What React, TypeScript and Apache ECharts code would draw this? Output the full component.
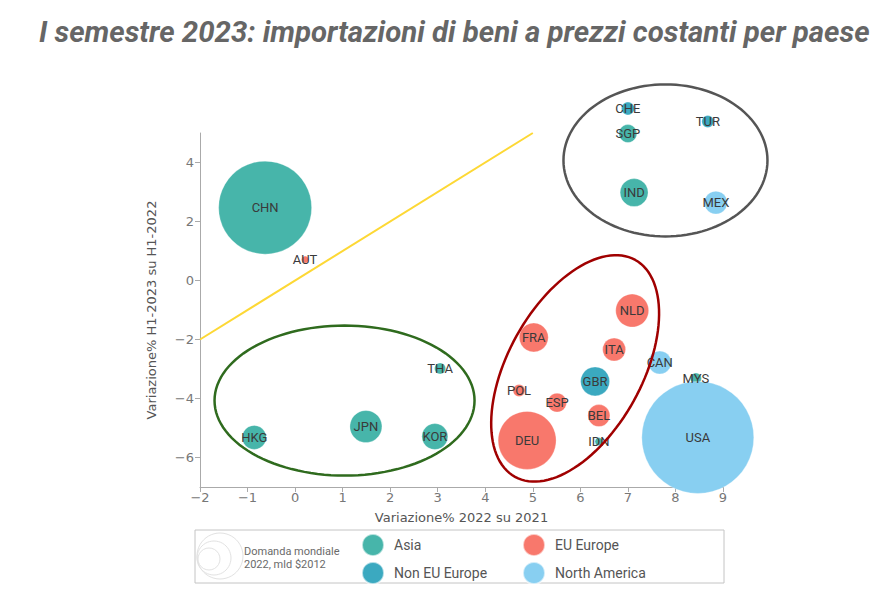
import React, { useEffect, useRef } from "react";
import * as echarts from "echarts";

// ---- Data ----
const countries = ["CHN","AUT","THA","HKG","JPN","KOR","NLD","FRA","ITA","CAN","GBR","POL","ESP","BEL","DEU","IDN","CHE","SGP","TUR","IND","MEX","MYS","USA"];
const var2022 = [-0.63,0.21,3.05,-0.86,1.49,2.94,7.09,5.02,6.71,7.67,6.31,4.71,5.51,6.39,4.88,6.39,7.0,7.0,8.68,7.13,8.85,8.43,8.47];
const varH1_2023 = [2.47,0.71,-2.98,-5.32,-4.95,-5.29,-1.02,-1.93,-2.34,-2.78,-3.42,-3.73,-4.14,-4.58,-5.42,-5.46,5.83,4.98,5.39,2.98,2.64,-3.32,-5.32];
const demand2022 = [2068,12,29,138,245,162,260,201,126,126,201,34,86,116,804,15,40,77,34,187,126,29,3000];
const region = ["Asia","EU Europe","Asia","Asia","Asia","Asia","EU Europe","EU Europe","EU Europe","North America","Non EU Europe","EU Europe","EU Europe","EU Europe","EU Europe","Asia","Non EU Europe","Asia","Non EU Europe","Asia","North America","Asia","North America"];
const regions = ["Asia","Non EU Europe","EU Europe","North America"];
const xTicks = [-2,-1,0,1,2,3,4,5,6,7,8,9];
const yTicks = [-6,-4,-2,0,2,4];
const diagonal = [[-2,-2],[5,5]];
const groupCenters = [[7.79,4.07],[1.04,-4.07],[5.89,-2.98]];
const sizeLegendLines = ["Domanda mondiale", "2022, mld $2012"];

// ---- Styles ----
const regionColors: Record<string,string> = {
  "Asia": "#47b5aa",
  "Non EU Europe": "#3ba9c0",
  "EU Europe": "#f8786c",
  "North America": "#88cff1",
};
const ellipseStyles = [
  { rx: 102, ry: 76, rot: 0, color: "#555555" },
  { rx: 130, ry: 75, rot: 0, color: "#2f6b1e" },
  { rx: 124, ry: 67, rot: 61, color: "#a00000" },
];
const legendPos: Record<string,[number,number]> = {
  "Asia": [361, 533],
  "EU Europe": [522, 533],
  "Non EU Europe": [361, 561],
  "North America": [522, 561],
};
const fmtMinus = (v: number) => String(v).replace("-", "\u2212");

export default function App() {
  const ref = useRef<HTMLDivElement>(null);
  useEffect(() => {
    if (!ref.current) return;
    const chart = echarts.init(ref.current, null, { renderer: "svg" });
    const scatterSeries = regions.map((r) => ({
      name: r,
      type: "scatter",
      clip: false,
      z: 2,
      itemStyle: { color: regionColors[r], opacity: 1, borderColor: "rgba(255,255,255,0.6)", borderWidth: 0.5 },
      symbolSize: (val: number[]) => 2.045 * Math.sqrt(val[2]),
      label: {
        show: true,
        position: "inside",
        offset: [0, -3],
        formatter: (p: any) => p.data[3],
        color: "#3a3a3a",
        fontSize: 13,
        fontFamily: "Roboto",
      },
      labelLayout: { hideOverlap: false },
      data: countries
        .map((c, i) => [var2022[i], varH1_2023[i], demand2022[i], c, region[i]])
        .filter((d) => d[4] === r),
    }));
    const option: any = {
      animation: false,
      title: {
        text: "I semestre 2023: importazioni di beni a prezzi costanti per paese",
        left: 34,
        top: 12,
        textStyle: { fontFamily: "Roboto", fontStyle: "italic", fontWeight: "bold", fontSize: 29.4, color: "#666" },
      },
      grid: { left: 200, right: 168, top: 133, bottom: 115, containLabel: false },
      xAxis: {
        type: "value",
        min: -2, max: 9, interval: 1,
        name: "Variazione% 2022 su 2021",
        nameLocation: "middle",
        nameGap: 24,
        nameTextStyle: { fontFamily: "DejaVu Sans", fontSize: 13, color: "#555" },
        axisLine: { show: true, onZero: false, lineStyle: { color: "#aaa", width: 1 } },
        axisTick: { show: true, length: 5, lineStyle: { color: "#aaa" }, customValues: xTicks },
        axisLabel: { fontFamily: "DejaVu Sans", fontSize: 13, color: "#777", margin: 4, formatter: fmtMinus, customValues: xTicks },
        splitLine: { show: false },
      },
      yAxis: {
        type: "value",
        min: -7, max: 5,
        name: "Variazione% H1-2023 su H1-2022",
        nameLocation: "middle",
        nameGap: 42,
        nameTextStyle: { fontFamily: "DejaVu Sans", fontSize: 13, color: "#555" },
        axisLine: { show: true, onZero: false, lineStyle: { color: "#aaa", width: 1 } },
        axisTick: { show: true, length: 5, lineStyle: { color: "#aaa" }, customValues: yTicks },
        axisLabel: { fontFamily: "DejaVu Sans", fontSize: 13, color: "#777", margin: 6, formatter: fmtMinus, customValues: yTicks },
        splitLine: { show: false },
      },
      legend: regions.map((r) => ({
        data: [r],
        left: legendPos[r][0],
        top: legendPos[r][1],
        orient: "horizontal",
        icon: "circle",
        itemWidth: 22,
        itemHeight: 22,
        itemGap: 0,
        padding: 0,
        textStyle: { fontFamily: "Roboto", fontSize: 14, color: "#555", padding: [0, 0, 0, 5] },
        selectedMode: false,
      })),
      graphic: [
        { type: "rect", shape: { x: 195, y: 530, width: 529, height: 53 }, style: { fill: "none", stroke: "#c4c4c4", lineWidth: 1 }, silent: true },
        { type: "circle", shape: { cx: 220, cy: 556, r: 23 }, style: { fill: "none", stroke: "#e2e2e2", lineWidth: 1 } },
        { type: "circle", shape: { cx: 214, cy: 558, r: 17 }, style: { fill: "none", stroke: "#e2e2e2", lineWidth: 1 } },
        { type: "circle", shape: { cx: 209, cy: 559, r: 11 }, style: { fill: "none", stroke: "#e2e2e2", lineWidth: 1 } },
        ...sizeLegendLines.map((t, i) => ({
          type: "text",
          x: 244,
          y: 551 + i * 13,
          style: { text: t, fontFamily: "Roboto", fontSize: 11, fill: "#6a6a6a", verticalAlign: "middle", lineHeight: 11 },
        })),
      ],
      series: [
        ...scatterSeries,
        {
          type: "line",
          data: diagonal,
          symbol: "none",
          clip: false,
          z: 3,
          lineStyle: { color: "#fdd835", width: 2 },
          silent: true,
        },
        {
          type: "custom",
          z: 4,
          clip: false,
          silent: true,
          data: groupCenters.map((c, i) => [c[0], c[1], i]),
          encode: { x: 0, y: 1 },
          renderItem: (params: any, api: any) => {
            const idx = api.value(2);
            const s = ellipseStyles[idx];
            const c = api.coord([api.value(0), api.value(1)]);
            const th = (s.rot * Math.PI) / 180;
            const pts: number[][] = [];
            for (let k = 0; k <= 120; k++) {
              const t = (k / 120) * Math.PI * 2;
              const ex = s.rx * Math.cos(t);
              const ey = s.ry * Math.sin(t);
              pts.push([c[0] + ex * Math.cos(th) + ey * Math.sin(th), c[1] - ex * Math.sin(th) + ey * Math.cos(th)]);
            }
            return {
              type: "polygon",
              shape: { points: pts },
              style: { fill: "none", stroke: s.color, lineWidth: 2.5 },
            };
          },
        },
      ],
    };
    chart.setOption(option);
    return () => chart.dispose();
  }, []);
  return <div ref={ref} style={{ position: "absolute", left: 0, top: 0, width: 891, height: 602 }} />;
}
